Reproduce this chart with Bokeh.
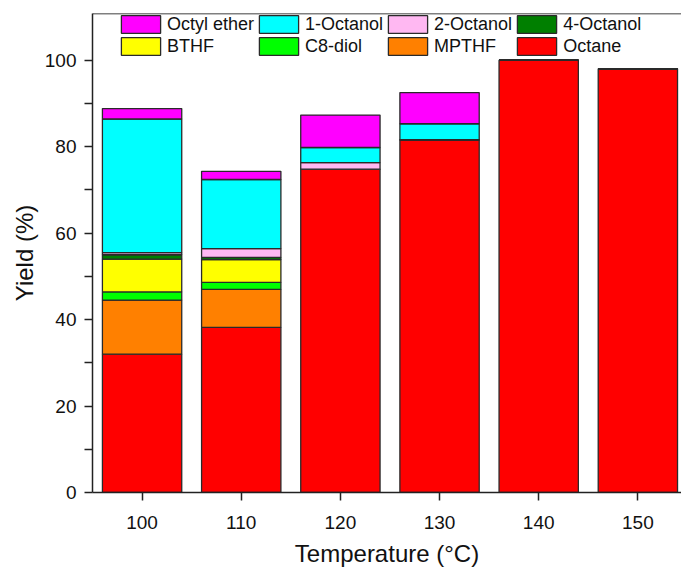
from bokeh.plotting import figure
from bokeh.models import ColumnDataSource, FixedTicker, Legend, LegendItem, Range1d, Span
from bokeh.embed import file_html
from bokeh.resources import INLINE

temps = [100, 110, 120, 130, 140, 150]
octane = [32.0, 38.2, 74.8, 81.6, 100.0, 98.0]
mpthf = [12.5, 8.8, 0, 0, 0, 0]
c8diol = [1.9, 1.6, 0, 0, 0, 0]
bthf = [7.6, 5.3, 0, 0, 0, 0]
octanol4 = [1.0, 0.5, 0, 0, 0, 0]
octanol2 = [0.5, 2.0, 1.5, 0, 0, 0]
octanol1 = [30.9, 16.0, 3.5, 3.7, 0, 0]
octyl_ether = [2.4, 1.9, 7.5, 7.2, 0, 0]

series = ["octane", "mpthf", "c8diol", "bthf", "octanol4", "octanol2", "octanol1", "octyl_ether"]
labels = ["Octane", "MPTHF", "C8-diol", "BTHF", "4-Octanol", "2-Octanol", "1-Octanol", "Octyl ether"]
colors = ["#FF0000", "#FF8000", "#00FF00", "#FFFF00", "#007F00", "#FFB8F2", "#00FFFF", "#FF00FF"]

source = ColumnDataSource(dict(x=temps, octane=octane, mpthf=mpthf, c8diol=c8diol, bthf=bthf,
                               octanol4=octanol4, octanol2=octanol2, octanol1=octanol1,
                               octyl_ether=octyl_ether))

FONT = "Liberation Sans"
y_top = 110.8

p = figure(width=681, height=572, output_backend="svg", toolbar_location=None,
           x_range=Range1d(95, 154.4), y_range=Range1d(0, y_top),
           min_border_left=92, min_border_right=0, min_border_top=13, min_border_bottom=80)
p.outline_line_color = None
p.grid.visible = False
p.background_fill_color = "white"

renderers = p.vbar_stack(series, x="x", width=8, source=source, color=colors,
                         line_color="#2a2a2a", line_width=1.3)

# top frame line
p.add_layout(Span(location=y_top, dimension="width", line_color="black", line_width=1.5))

for ax in (p.xaxis[0], p.yaxis[0]):
    ax.axis_line_width = 1.5
    ax.axis_line_color = "#222222"
    ax.major_tick_line_width = 1.5
    ax.minor_tick_line_width = 1.5
    ax.major_tick_line_color = "#222222"
    ax.minor_tick_line_color = "#222222"
    ax.major_tick_in = 0
    ax.major_tick_out = 8
    ax.minor_tick_in = 0
    ax.minor_tick_out = 8
    ax.major_label_text_font = FONT
    ax.major_label_text_font_size = "19px"
    ax.major_label_text_color = "#111111"
    ax.axis_label_text_font = FONT
    ax.axis_label_text_font_size = "24px"
    ax.axis_label_text_font_style = "normal"
    ax.axis_label_text_color = "#111111"

p.xaxis.ticker = FixedTicker(ticks=temps)
p.xaxis.major_label_standoff = 15
p.xaxis.axis_label = "Temperature (\u00b0C)"
p.xaxis.axis_label_standoff = 8

p.yaxis.ticker = FixedTicker(ticks=[0, 20, 40, 60, 80, 100], minor_ticks=[10, 30, 50, 70, 90])
p.yaxis.major_label_standoff = 8
p.yaxis.axis_label = "Yield (%)"
p.yaxis.axis_label_standoff = 4

# column-major order: each column holds (top row, bottom row)
order = [7, 3, 6, 2, 5, 1, 4, 0]
items = [LegendItem(label=labels[i], renderers=[renderers[i]]) for i in order]
legend = Legend(items=items, orientation="vertical", nrows=2,
                location=(24, 435), glyph_width=49, glyph_height=22,
                label_standoff=2, spacing=0, padding=0, margin=0,
                label_text_font=FONT, label_text_font_size="18px",
                label_text_color="#111111",
                border_line_color=None, background_fill_alpha=0)
p.add_layout(legend, "center")

open("out.html", "w").write(file_html(p, INLINE))
